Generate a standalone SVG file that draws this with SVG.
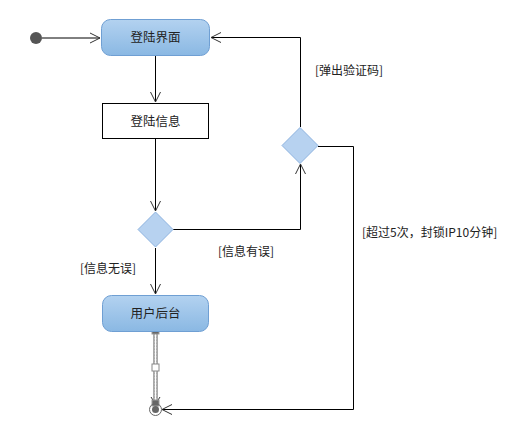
<svg xmlns="http://www.w3.org/2000/svg" width="509" height="436" viewBox="0 0 509 436">
<style>
text{font-family:"Noto Sans CJK SC","Liberation Sans",sans-serif;font-size:12px;fill:#222}
.node text{text-anchor:middle;font-size:12.5px}
.state{fill:url(#g);stroke:#6f9fd3;stroke-width:1}
.act{fill:#fff;stroke:#000;stroke-width:1}
.dia{fill:#b7d2f0;stroke:#8db3e0;stroke-width:1}
.c{fill:none;stroke:#000;stroke-width:1;marker-end:url(#a)}
</style>
<defs>
<linearGradient id="g" x1="0" y1="0" x2="0" y2="1">
<stop offset="0" stop-color="#b3d2f0"/>
<stop offset="1" stop-color="#8ab8e3"/>
</linearGradient>
<marker id="a" viewBox="0 0 12 12" refX="11" refY="6" markerWidth="12" markerHeight="12" markerUnits="userSpaceOnUse" orient="auto">
<path d="M1,1 L11,6 L1,11" fill="none" stroke="#333" stroke-width="1"/>
</marker>
</defs>
<g id="connectors">
<path class="c" d="M42,38 H100"/>
<path class="c" d="M155.5,56 V102"/>
<path class="c" d="M155.5,139 V211"/>
<path class="c" d="M173,229.5 H300.5 V164"/>
<path class="c" d="M300.5,127 V37.5 H211"/>
<path class="c" d="M318,146.5 H353.5 V409.5 H162"/>
<path class="c" d="M155.5,248 V294"/>
<g id="selected-connector">
<path d="M154,332 V403 M157,332 V403" fill="none" stroke="#555" stroke-width="1"/>
<path d="M155.5,332 V403" fill="none" stroke="#fff" stroke-width="1.5" stroke-dasharray="1.5 1.5"/>
<path d="M151,397 L155.5,404 L160,397" fill="none" stroke="#333" stroke-width="1"/>
<rect x="152" y="327" width="7" height="7" fill="#666" stroke="#999"/>
<rect x="152" y="364" width="7" height="7" fill="#fff" stroke="#888"/>
<rect x="152" y="400" width="7" height="6" fill="#666" stroke="#999"/>
</g>
</g>
<g id="start" class="node"><circle cx="36" cy="38" r="6" fill="#555"/></g>
<g id="login-ui" class="node"><rect class="state" x="101.5" y="19.5" width="108" height="36" rx="9"/><text x="155.5" y="42">登陆界面</text></g>
<g id="login-info" class="node"><rect class="act" x="102.5" y="103.5" width="106" height="35"/><text x="155.5" y="125.5">登陆信息</text></g>
<g id="decision1" class="node"><path class="dia" d="M155.5,212 L173,229.5 L155.5,247 L138,229.5 Z"/></g>
<g id="decision2" class="node"><path class="dia" d="M300,127.5 L318,145.5 L300,163.5 L282,145.5 Z"/></g>
<g id="user-backend" class="node"><rect class="state" x="102.5" y="295.5" width="106" height="36" rx="9"/><text x="155.5" y="318">用户后台</text></g>
<g id="end" class="node"><circle cx="155.5" cy="409.5" r="6" fill="none" stroke="#666"/><circle cx="155.5" cy="409.5" r="3.5" fill="#666"/></g>
<g id="labels">
<text x="315" y="75">[弹出验证码]</text>
<text x="218" y="256">[信息有误]</text>
<text x="80" y="273">[信息无误]</text>
<text x="362" y="237">[超过5次，封锁IP10分钟]</text>
</g>
</svg>
